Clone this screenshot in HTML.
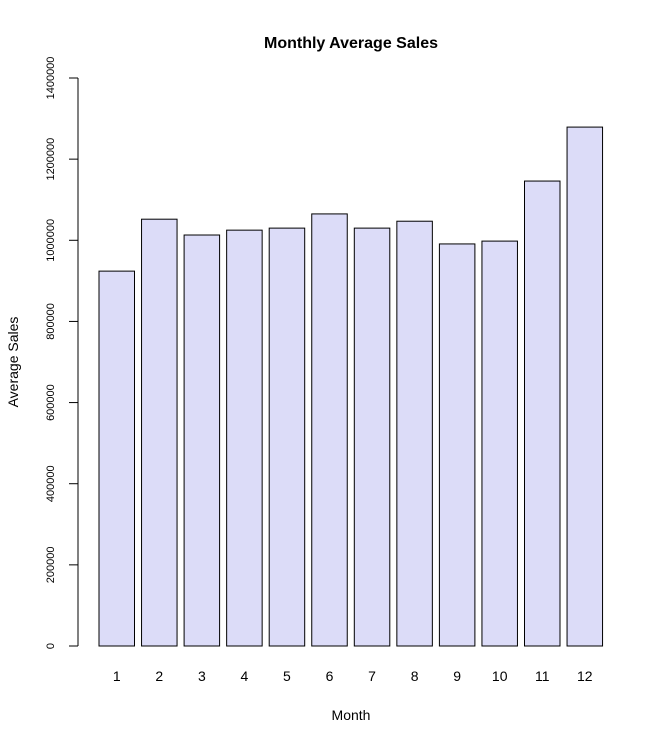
<!DOCTYPE html>
<html><head><meta charset="utf-8"><style>
body{margin:0;background:#fff}
svg{font-family:"Liberation Sans",Arial,sans-serif;display:block}
</style></head><body>
<svg id="chart" width="664" height="744" viewBox="0 0 664 744">
<text x="351" y="48" text-anchor="middle" font-size="16" font-weight="bold">Monthly Average Sales</text>
<text x="351" y="720" text-anchor="middle" font-size="14">Month</text>
<text transform="translate(18,362) rotate(-90)" text-anchor="middle" font-size="14">Average Sales</text>
<g id="bars"></g>
<g id="yaxis"></g>
<g id="xlabels"></g>
</svg>
<script>
const months = ["1","2","3","4","5","6","7","8","9","10","11","12"];
const sales = [924000,1052000,1013000,1025000,1030000,1065000,1030000,1047000,991000,998000,1146000,1279000];
const yTicks = [0,200000,400000,600000,800000,1000000,1200000,1400000];
const yTickLabels = ["0","200000","400000","600000","800000","1000000","1200000","1400000"];
const ns="http://www.w3.org/2000/svg";
const y0=646, yTop=78, yMax=1400000;
const y=v=>y0-(v/yMax)*(y0-yTop);
const x=i=>99+i*42.55;
const bw=35.5;
const bars=document.getElementById('bars'), ya=document.getElementById('yaxis'), xl=document.getElementById('xlabels');
function mk(t,a){const e=document.createElementNS(ns,t);for(const k in a)e.setAttribute(k,a[k]);return e;}
sales.forEach((v,i)=>{
 const r=mk('rect',{x:x(i),y:y(v),width:bw,height:y0-y(v),fill:'#dcdcf8',stroke:'#000','stroke-width':1});
 
 
 bars.appendChild(r);
 const t=mk('text',{x:x(i)+bw/2,y:681,'text-anchor':'middle','font-size':14});
 t.textContent=months[i];
 
 
 xl.appendChild(t);
});
const al=mk('line',{x1:78,x2:78,y1:y(0),y2:y(yMax),stroke:'#000'});


ya.appendChild(al);
yTicks.forEach((v,i)=>{
 const l=mk('line',{x1:69,x2:78,y1:y(v),y2:y(v),stroke:'#000'});
 
 
 ya.appendChild(l);
 const t=mk('text',{transform:`translate(54,${y(v)}) rotate(-90)`,'text-anchor':'middle','font-size':11});
 t.textContent=yTickLabels[i];
 
 
 ya.appendChild(t);
});
</script>
</body></html>
